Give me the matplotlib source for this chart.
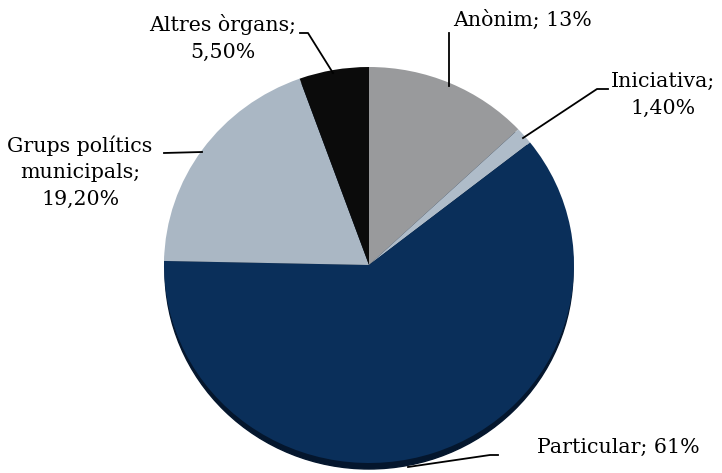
import matplotlib
matplotlib.use("Agg")
import matplotlib.pyplot as plt
from matplotlib.patches import Ellipse

# ---------------------------------------------------------------------------
# Data
# ---------------------------------------------------------------------------
categories = ["Anònim", "Iniciativa", "Particular", "Grups polítics municipals", "Altres òrgans"]
values = [13.0, 1.4, 61.0, 19.2, 5.5]
value_labels = ["13%", "1,40%", "61%", "19,20%", "5,50%"]
colors = ["#999a9c", "#afbcc9", "#0a2f5a", "#aab7c4", "#0b0b0b"]

W, H = 722, 473
CX, CY = 369, 265
RX, RY = 205, 198
S = RX / RY  # vertical squash so the pie is a slight ellipse


def Y(y):
    """Pixel row (from top) -> data y."""
    return (H - y) * S


fig = plt.figure(figsize=(W / 100, H / 100), dpi=100)
ax = fig.add_axes([0, 0, 1, 1])

# darker rim underneath for the bevelled look
rim = Ellipse((CX, Y(CY + 6)), 2 * RX - 2, 2 * RX, color="#04162d", zorder=0)
ax.add_patch(rim)

ax.pie(values, colors=colors, startangle=90, counterclock=False,
       center=(CX, Y(CY)), radius=RX, frame=True,
       wedgeprops=dict(linewidth=0))
ax.set_aspect("auto")
ax.set_xlim(0, W)
ax.set_ylim(0, H * S)
ax.axis("off")

font = dict(family="DejaVu Serif", fontsize=14.8, color="black")
lw = 1.3
ls = 1.5

# Anònim
ax.plot([449, 449], [Y(86), Y(33)], color="black", lw=lw)
ax.text(453, Y(20), f"{categories[0]}; {value_labels[0]}", ha="left", va="center", **font)

# Iniciativa
ax.plot([523, 597, 608], [Y(138), Y(89), Y(89)], color="black", lw=lw)
ax.text(663, Y(95), f"{categories[1]};\n{value_labels[1]}", ha="center", va="center",
        linespacing=ls, **font)

# Particular
ax.plot([408, 490, 498], [Y(467), Y(455), Y(455)], color="black", lw=lw)
ax.text(537, Y(447), f"{categories[2]}; {value_labels[2]}", ha="left", va="center", **font)

# Grups polítics municipals
ax.plot([164, 202], [Y(153), Y(152)], color="black", lw=lw)
ax.text(80, Y(172), "Grups polítics\nmunicipals;\n" + value_labels[3], ha="center", va="center",
        linespacing=ls, **font)

# Altres òrgans
ax.plot([300, 308, 333], [Y(33), Y(33), Y(73)], color="black", lw=lw)
ax.text(223, Y(38), f"{categories[4]};\n{value_labels[4]}", ha="center", va="center",
        linespacing=ls, **font)

fig.savefig("out.png", dpi=100)
plt.close(fig)
